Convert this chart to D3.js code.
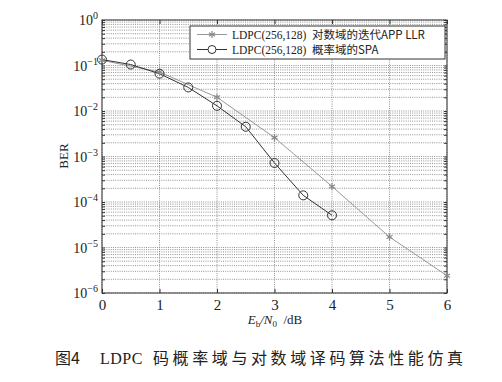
<!DOCTYPE html>
<html lang="zh">
<head>
<meta charset="UTF-8">
<title>BER</title>
<script src="https://cdn.jsdelivr.net/npm/d3@7"></script>
<style>
  body{margin:0;background:#fff;}
  svg{display:block;}
  text{font-family:"Liberation Serif","Times New Roman",serif;fill:#222;}
  .cjk{font-family:"Noto Sans CJK SC",sans-serif;}
</style>
</head>
<body>
<svg id="svg" width="502" height="382"></svg>
<script>
// data
var snrLog = [0, 1, 2, 3, 4, 5, 6];
var berLog = [0.13, 0.072, 0.020, 2.6e-3, 2.2e-4, 1.7e-5, 2.4e-6];
var snrSpa = [0, 0.5, 1, 1.5, 2, 2.5, 3, 3.5, 4];
var berSpa = [0.135, 0.105, 0.066, 0.033, 0.013, 4.5e-3, 7.2e-4, 1.4e-4, 5.1e-5];
var xTicks = [0, 1, 2, 3, 4, 5, 6];
var yExps = [0, -1, -2, -3, -4, -5, -6];
var legendLabels = ["LDPC(256,128)\u2003对数域的迭代APP LLR", "LDPC(256,128)\u2003概率域的SPA"];

var svg = d3.select("#svg");
var L = 102, R = 447, T = 20, B = 293;

var x = d3.scaleLinear().domain([0, 6]).range([L, R]);
var y = d3.scaleLog().domain([1e-6, 1]).range([B, T]);

// grid
var g = svg.append("g");
var minor = [];
for (var e = -6; e < 0; e++) for (var k = 1; k < 10; k++) minor.push(k * Math.pow(10, e));
minor.push(1);
g.selectAll(".hg").data(minor).enter().append("line")
  .attr("x1", L).attr("x2", R)
  .attr("y1", function(d){return y(d);}).attr("y2", function(d){return y(d);})
  .attr("stroke", "#777").attr("stroke-width", 0.8).attr("stroke-dasharray", "1,1.2");
g.selectAll(".vg").data(xTicks).enter().append("line")
  .attr("y1", T).attr("y2", B)
  .attr("x1", function(d){return x(d);}).attr("x2", function(d){return x(d);})
  .attr("stroke", "#777").attr("stroke-width", 0.8).attr("stroke-dasharray", "1,1.2");

// frame
svg.append("rect").attr("x", L).attr("y", T).attr("width", R - L).attr("height", B - T)
  .attr("fill", "none").attr("stroke", "#333").attr("stroke-width", 1);

// axis ticks
var xa = svg.append("g").attr("transform", "translate(0," + B + ")")
  .call(d3.axisBottom(x).tickValues(xTicks).tickSize(-4).tickFormat(d3.format("d")));
xa.attr("font-family", null);
xa.select(".domain").remove();
xa.selectAll("text").attr("dy", "0.71em").attr("y", 6)
  .style("font-size", "15px").style("font-family", "'Liberation Serif', serif");
var xt = svg.append("g").call(d3.axisTop(x).tickValues(xTicks).tickSize(-4).tickFormat(""))
  .attr("transform", "translate(0," + T + ")");
xt.select(".domain").remove();
var yr = svg.append("g").attr("transform", "translate(" + R + ",0)")
  .call(d3.axisLeft(y).tickValues(minor).tickSize(3).tickFormat(""));
yr.select(".domain").remove();
var yl = svg.append("g").attr("transform", "translate(" + L + ",0)")
  .call(d3.axisRight(y).tickValues(minor).tickSize(3).tickFormat(""));
yl.select(".domain").remove();
svg.selectAll(".tick line").attr("stroke", "#333");

// y labels 10^n
var yt = svg.selectAll(".ylab").data(yExps).enter().append("text")
  .attr("x", L - 4).attr("y", function(d){return y(Math.pow(10, d)) + 5;})
  .attr("text-anchor", "end").style("font-size", "14px");
yt.append("tspan").text("10");
yt.append("tspan").attr("dy", -6).style("font-size", "10px").text(function(d){return d === 0 ? "0" : "\u2212" + (-d);});

svg.append("text").attr("transform", "translate(68,156) rotate(-90)")
  .attr("text-anchor", "middle").style("font-size", "13px").text("BER");

var xl = svg.append("text").attr("x", 275).attr("y", 324).attr("text-anchor", "middle").style("font-size", "13px");
xl.append("tspan").style("font-style", "italic").text("E");
xl.append("tspan").attr("dy", 3).style("font-size", "9px").text("b");
xl.append("tspan").attr("dy", -3).style("font-style", "italic").text("/N");
xl.append("tspan").attr("dy", 3).style("font-size", "9px").text("0");
xl.append("tspan").attr("dy", -3).text("\u2002/dB");

// lines
var line = d3.line().x(function(d){return x(d[0]);}).y(function(d){return y(d[1]);});
var logData = d3.zip(snrLog, berLog);
var spaData = d3.zip(snrSpa, berSpa);

svg.append("path").datum(logData).attr("d", line).attr("fill", "none").attr("stroke", "#999").attr("stroke-width", 1);
svg.append("path").datum(spaData).attr("d", line).attr("fill", "none").attr("stroke", "#333").attr("stroke-width", 1);

function drawStar(sel){
  [0, 60, 120].forEach(function(a){
    sel.append("line").attr("x1", -3.5).attr("x2", 3.5).attr("y1", 0).attr("y2", 0)
      .attr("transform", "rotate(" + (a + 90) + ")")
      .attr("stroke", "#888").attr("stroke-width", 1.2);
  });
}
svg.selectAll(".st").data(logData).enter().append("g")
  .attr("transform", function(d){return "translate(" + x(d[0]) + "," + y(d[1]) + ")";})
  .call(drawStar);
svg.selectAll(".ci").data(spaData).enter().append("circle")
  .attr("cx", function(d){return x(d[0]);}).attr("cy", function(d){return y(d[1]);})
  .attr("r", 4.5).attr("fill", "none").attr("stroke", "#333").attr("stroke-width", 1);

// legend
var lg = svg.append("g");
lg.append("rect").attr("x", 190).attr("y", 26).attr("width", 255).attr("height", 33)
  .attr("fill", "#fff").attr("stroke", "#333").attr("stroke-width", 1);
[0, 1].forEach(function(i){
  var yy = 34.5 + i * 15;
  lg.append("line").attr("x1", 197).attr("x2", 227).attr("y1", yy).attr("y2", yy)
    .attr("stroke", i ? "#333" : "#999").attr("stroke-width", 1);
  if (i) lg.append("circle").attr("cx", 212).attr("cy", yy).attr("r", 4).attr("fill", "#fff").attr("stroke", "#333");
  else lg.append("g").attr("transform", "translate(212," + yy + ")").call(drawStar);
  var t = lg.append("text").attr("x", 232).attr("y", yy + 4).style("font-size", "11.5px");
  var parts = legendLabels[i].split("\u2003");
  t.append("tspan").text(parts[0]);
  t.append("tspan").attr("x", 312).attr("class", "cjk").style("font-size", "11.5px").text(parts[1]);
});

// caption
var cap = svg.append("text").attr("x", 55).attr("y", 364).style("font-size", "16px");
cap.append("tspan").attr("class", "cjk").text("图4");
cap.append("tspan").attr("x", 100).style("letter-spacing", "0.5px").text("LDPC");
cap.append("tspan").attr("x", 153).attr("class", "cjk").style("letter-spacing", "3.6px")
  .text("码概率域与对数域译码算法性能仿真");
</script>
</body>
</html>
